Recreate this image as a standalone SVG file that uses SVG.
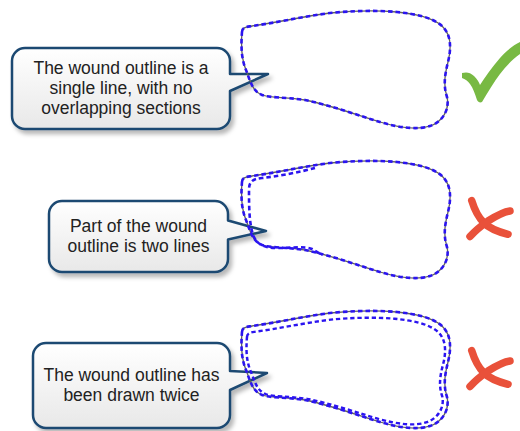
<svg xmlns="http://www.w3.org/2000/svg" xmlns:xlink="http://www.w3.org/1999/xlink" width="520" height="431" viewBox="0 0 520 431">
<defs>
<linearGradient id="boxFill" x1="0" y1="0" x2="0" y2="1">
<stop offset="0" stop-color="#ffffff"/>
<stop offset="1" stop-color="#e8e8e8"/>
</linearGradient>
<filter id="shadow" x="-10%" y="-10%" width="130%" height="140%">
<feDropShadow dx="3" dy="4" stdDeviation="2" flood-color="#000" flood-opacity="0.28"/>
</filter>
<path id="wound" d="M242,32 C242,27 247,27 252,26 C275,23 300,17 330,13 C350,11 375,10 397,12 C415,14 432,17 442,26 C452,35 451,50 448,62 C445,74 443,85 447,97 C450,110 442,122 430,126 C418,130 400,128 380,122 C360,116 330,105 305,100 C285,97 270,98 262,95 C252,91 250,80 246,70 C241,58 241,45 242,32 Z"/>
<g id="cross">
<path d="M471.7,200.5 C474,208 477,216 484,223 C490,229 499,232 508,234.3"/>
<path d="M510,211 C503,212 496,216 488,221 C481,226 475,231 470,236.5"/>
</g>
</defs>
<style>
.box{fill:url(#boxFill);stroke:#1d4a72;stroke-width:2.5;stroke-linejoin:round;filter:url(#shadow)}
.txt{font-family:"Liberation Sans",Arial,sans-serif;font-size:17.5px;fill:#222;text-anchor:middle}
.edge{fill:none;stroke:#606060;stroke-width:1.3}
.dash{fill:none;stroke:#2b14f0;stroke-width:2.6;stroke-dasharray:4.5 3}
.check{fill:#78b943}
.x{fill:none;stroke:#e9513a;stroke-width:7.5;stroke-linecap:round}
</style>

<g id="callout1">
<path class="box" d="M25,48 H217 A13,13 0 0 1 230,61 V74 L268,74 L230,91 V116 A13,13 0 0 1 217,129 H25 A13,13 0 0 1 12,116 V61 A13,13 0 0 1 25,48 Z"/>
<text class="txt" x="121" y="73.5">The wound outline is a</text>
<text class="txt" x="121" y="93.5">single line, with no</text>
<text class="txt" x="121" y="113.5">overlapping sections</text>
</g>

<g id="callout2">
<path class="box" d="M62,201 H215 A13,13 0 0 1 228,214 V220.5 L266,231 L228,239.5 V259 A13,13 0 0 1 215,272 H62 A13,13 0 0 1 49,259 V214 A13,13 0 0 1 62,201 Z"/>
<text class="txt" x="138.5" y="231.7">Part of the wound</text>
<text class="txt" x="138.5" y="251.7">outline is two lines</text>
</g>

<g id="callout3">
<path class="box" d="M46,343 H217 A13,13 0 0 1 230,356 V371 L267,373 L230,390 V415 A13,13 0 0 1 217,428 H46 A13,13 0 0 1 33,415 V356 A13,13 0 0 1 46,343 Z"/>
<text class="txt" x="131.5" y="380.7">The wound outline has</text>
<text class="txt" x="131.5" y="400.7">been drawn twice</text>
</g>

<g id="wound1">
<use xlink:href="#wound" class="edge"/>
<use xlink:href="#wound" class="dash"/>
</g>

<g id="wound2" transform="translate(0,150)">
<use xlink:href="#wound" class="edge"/>
<use xlink:href="#wound" class="dash"/>
<path class="dash" d="M315,18 C300,22 280,26 262,28 C252,29 249,32 249,40 C249,55 249,72 253,85 C257,95 265,98 278,98 C292,98 305,96 312,99 L322,105"/>
</g>

<g id="wound3" transform="translate(0,300)">
<use xlink:href="#wound" class="edge"/>
<use xlink:href="#wound" class="dash"/>
<g transform="translate(346,71.5) scale(0.952,0.91) translate(-346,-70)">
<use xlink:href="#wound" class="dash" vector-effect="non-scaling-stroke"/>
</g>
</g>

<g id="check">
<path class="check" d="M462,73 C466,72 470,72 474,76 C477,79 479,82 480,85 C485,77 492,67 500,58 C507,50 514,45 520,42 L520,54 C513,59 506,66 500,74 C494,82 488,92 482,102 C480,103 478,102 477,100 C475,94 473,88 470,84 C468,81 465,79 462,78 Z"/>
</g>

<g id="cross1">
<use xlink:href="#cross" class="x"/>
</g>

<g id="cross2" transform="translate(0,150)">
<use xlink:href="#cross" class="x"/>
</g>

<g id="connectors"></g>
</svg>
